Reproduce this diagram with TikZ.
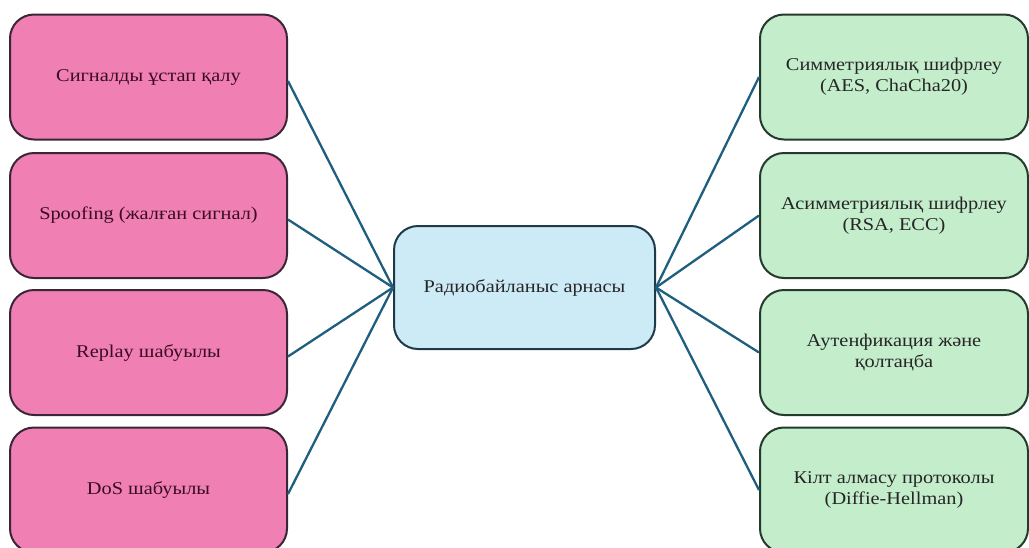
\documentclass[tikz,border=0pt]{standalone}
\usepackage{fontspec}
\setmainfont{Liberation Serif}[FakeStretch=1.13]
\definecolor{pinkfill}{HTML}{F07FB3}
\definecolor{pinkdraw}{HTML}{3A2636}
\definecolor{pinktext}{HTML}{3A0C22}
\definecolor{bluefill}{HTML}{CDEBF7}
\definecolor{bluedraw}{HTML}{1E3A4A}
\definecolor{greenfill}{HTML}{C4EDCB}
\definecolor{greendraw}{HTML}{233A2C}
\definecolor{linkcol}{HTML}{1F5E7E}
\begin{document}
\begin{tikzpicture}[x=1pt,y=-1pt,
  box/.style={rounded corners=24pt, line width=2pt, minimum width=277pt, minimum height=125pt, align=center, font=\fontsize{18}{21}\selectfont, inner sep=0pt},
  threat/.style={box, fill=pinkfill, draw=pinkdraw, text=pinktext},
  defense/.style={box, fill=greenfill, draw=greendraw, text=black!85, minimum width=268pt},
  hub/.style={box, fill=bluefill, draw=bluedraw, text=black!85, minimum width=261pt, minimum height=123pt},
  link/.style={draw=linkcol, line width=2.3pt}]
\useasboundingbox (0,0) rectangle (1029,547);
\node[threat] (t1) at (148.5,77) {Сигналды ұстап қалу};
\node[threat] (t2) at (148.5,215.5) {Spoofing (жалған сигнал)};
\node[threat] (t3) at (148.5,352.5) {Replay шабуылы};
\node[threat] (t4) at (148.5,490) {DoS шабуылы};
\node[hub] (c) at (524.5,287.5) {Радиобайланыс арнасы};
\node[defense] (d1) at (894,77) {Симметриялық шифрлеу\\(AES, ChaCha20)};
\node[defense] (d2) at (894,215.5) {Асимметриялық шифрлеу\\(RSA, ECC)};
\node[defense] (d3) at (894,352.5) {Аутенфикация және\\қолтаңба};
\node[defense] (d4) at (894,490) {Кілт алмасу протоколы\\(Diffie-Hellman)};
\foreach \n in {t1,t2,t3,t4} \draw[link] ([yshift=-4pt]\n.east) -- (c.west);
\foreach \n in {d1,d2,d3,d4} \draw[link] (c.east) -- (\n.west);
\end{tikzpicture}
\end{document}
